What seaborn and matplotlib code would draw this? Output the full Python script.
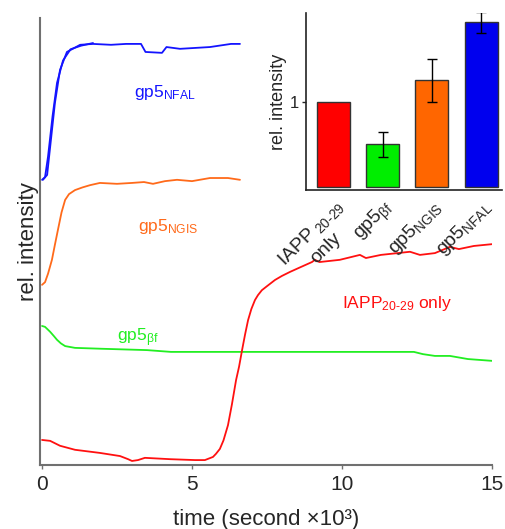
import matplotlib
matplotlib.use('Agg')
import matplotlib.pyplot as plt
import seaborn as sns
import pandas as pd

# 时间 (×10^3 s) 与相对强度 (任意单位, 0-100)
t_nfal = [0.03, 0.17, 0.27, 0.43, 0.6, 0.83, 1.27, 1.7, 2.3, 2.8, 3.3, 3.45, 4.0, 4.15, 4.6, 5.1, 5.6, 6.3, 6.6]
y_nfal = [63.8, 64.9, 71.1, 81.0, 88.4, 92.4, 94.0, 94.2, 94.0, 94.2, 94.2, 92.4, 92.2, 93.5, 93.1, 93.3, 93.5, 94.2, 94.2]
t_nfal2 = [0.0, 0.1, 0.2, 0.35, 0.5, 0.7, 0.95, 1.3, 1.7]
y_nfal2 = [63.8, 64.4, 69.0, 78.0, 85.5, 90.5, 93.0, 93.8, 94.4]

t_ngis = [0.0, 0.1, 0.2, 0.33, 0.43, 0.53, 0.65, 0.77, 0.9, 1.1, 1.35, 1.6, 1.93, 2.5, 3.0, 3.4, 3.7, 4.1, 4.5, 5.0, 5.6, 6.2, 6.6]
y_ngis = [40.3, 40.9, 42.8, 45.9, 49.3, 52.6, 56.5, 59.3, 60.6, 61.5, 62.1, 62.6, 63.1, 62.9, 63.1, 63.3, 62.9, 63.5, 63.8, 63.5, 64.2, 64.2, 63.8]

t_bf = [0.0, 0.1, 0.27, 0.4, 0.5, 0.63, 0.77, 1.1, 2.0, 3.5, 4.3, 6.0, 9.0, 12.4, 12.7, 13.1, 13.6, 14.2, 15.0]
y_bf = [31.1, 30.9, 29.8, 28.8, 28.0, 27.2, 26.6, 26.2, 26.0, 25.7, 25.3, 25.3, 25.3, 25.3, 24.8, 24.4, 24.4, 23.7, 23.3]

t_iapp = [0.0, 0.27, 0.6, 1.1, 1.93, 2.6, 2.87, 3.0, 3.2, 3.43, 4.27, 5.1, 5.43, 5.7, 5.8, 5.93, 6.05, 6.2,
          6.33, 6.47, 6.57, 6.67, 6.77, 6.87, 6.98, 7.1, 7.2, 7.33, 7.5, 7.77, 8.0, 8.27, 8.6, 9.0, 9.1,
          9.25, 9.93, 10.6, 10.8, 11.3, 12.27, 12.6, 13.1, 13.6, 13.9, 14.4, 15.0]
y_iapp = [5.6, 5.4, 4.3, 3.4, 2.7, 2.0, 1.3, 0.9, 1.1, 1.6, 1.3, 1.1, 1.1, 1.8, 2.5, 3.6, 5.5, 8.9,
          13.5, 19.0, 22.0, 25.7, 29.2, 32.4, 34.9, 36.9, 38.0, 39.1, 40.0, 41.4, 42.3, 43.2, 44.2, 45.4, 45.9,
          45.4, 45.9, 47.0, 46.3, 47.0, 47.7, 47.0, 47.4, 48.8, 48.3, 49.0, 49.4]

# 插图柱状图数据
bar_names = [r'IAPP$_{\ \mathrm{20\text{-}29}}$' + '\nonly', r'gp5$_{\mathrm{βf}}$',
             r'gp5$_{\mathrm{NGIS}}$', r'gp5$_{\mathrm{NFAL}}$']
bar_values = [1.0, 0.5, 1.25, 1.92]
bar_errors = [0.0, 0.14, 0.25, 0.12]

c_red = '#ff1010'
c_green = '#22ee22'
c_orange = '#ff6a1a'
c_blue = '#1414ff'
bar_colors = ['#ff0000', '#00ee00', '#ff6600', '#0000ee']

sns.set_style('white')
plt.rcParams['font.family'] = ['Liberation Sans', 'DejaVu Sans']
plt.rcParams['mathtext.fontset'] = 'custom'
plt.rcParams['mathtext.rm'] = 'Liberation Sans'
plt.rcParams['mathtext.it'] = 'Liberation Sans:italic'
plt.rcParams['mathtext.bf'] = 'Liberation Sans:bold'

fig = plt.figure(figsize=(5.06, 5.29), dpi=100)
ax = fig.add_axes([0.0791, 0.121, 0.893, 0.845])

lw = 1.3
sns.lineplot(x=t_nfal, y=y_nfal, ax=ax, color=c_blue, lw=lw, sort=False, estimator=None)
sns.lineplot(x=t_nfal2, y=y_nfal2, ax=ax, color=c_blue, lw=lw, sort=False, estimator=None)
sns.lineplot(x=t_ngis, y=y_ngis, ax=ax, color=c_orange, lw=lw, sort=False, estimator=None)
sns.lineplot(x=t_bf, y=y_bf, ax=ax, color=c_green, lw=lw, sort=False, estimator=None)
sns.lineplot(x=t_iapp, y=y_iapp, ax=ax, color=c_red, lw=lw, sort=False, estimator=None)

ax.set_xlim(-0.067, 15)
ax.set_ylim(0, 100)
ax.set_xticks([0, 5, 10, 15])
ax.set_yticks([])
ax.tick_params(axis='x', bottom=True, length=3, width=1, color='#707070', labelsize=15, pad=4)
for s in ['top', 'right']:
    ax.spines[s].set_visible(False)
for s in ['left', 'bottom']:
    ax.spines[s].set_color('#707070')
    ax.spines[s].set_linewidth(1.5)
ax.set_xlabel('time (second ×10³)', fontsize=16, labelpad=11)
ax.set_ylabel('rel. intensity', fontsize=16, labelpad=1)

ax.text(3.07, 82.4, r'gp5$_{\mathrm{NFAL}}$', color=c_blue, fontsize=12.5, va='baseline')
ax.text(3.2, 52.3, r'gp5$_{\mathrm{NGIS}}$', color=c_orange, fontsize=12.5, va='baseline')
ax.text(2.5, 27.6, r'gp5$_{\mathrm{βf}}$', color=c_green, fontsize=12.5, va='baseline')
ax.text(10.0, 35.1, r'IAPP$_{\mathrm{20\text{-}29}}$ only', color=c_red, fontsize=12.5, va='baseline')

# 插图
ins = fig.add_axes([0.6047, 0.6408, 0.387, 0.3346])
df = pd.DataFrame({'name': bar_names, 'value': bar_values})
sns.barplot(data=df, x='name', y='value', hue='name', palette=bar_colors, legend=False,
            ax=ins, width=0.67, edgecolor='#333333', linewidth=1, saturation=1)
ins.errorbar(range(1, 4), bar_values[1:], yerr=bar_errors[1:], fmt='none', ecolor='black',
             elinewidth=1, capsize=3.5, capthick=1)
ins.set_xlim(-0.56, 3.42)
ins.set_ylim(-0.03, 2.03)
ins.set_yticks([1])
ins.set_xlabel('')
ins.set_ylabel('rel. intensity', fontsize=13, labelpad=2)
ins.tick_params(axis='y', left=True, length=3, width=1, labelsize=12, pad=2)
ins.tick_params(axis='x', bottom=False, labelsize=14, pad=1)
for lab in ins.get_xticklabels():
    lab.set_rotation(45)
    lab.set_ha('right')
    lab.set_rotation_mode('anchor')
    lab.set_multialignment('center')
for s in ['top', 'right']:
    ins.spines[s].set_visible(False)
for s in ['left', 'bottom']:
    ins.spines[s].set_color('#222222')
    ins.spines[s].set_linewidth(1.2)
ins.patch.set_alpha(0)

plt.savefig('out.png', dpi=100)
